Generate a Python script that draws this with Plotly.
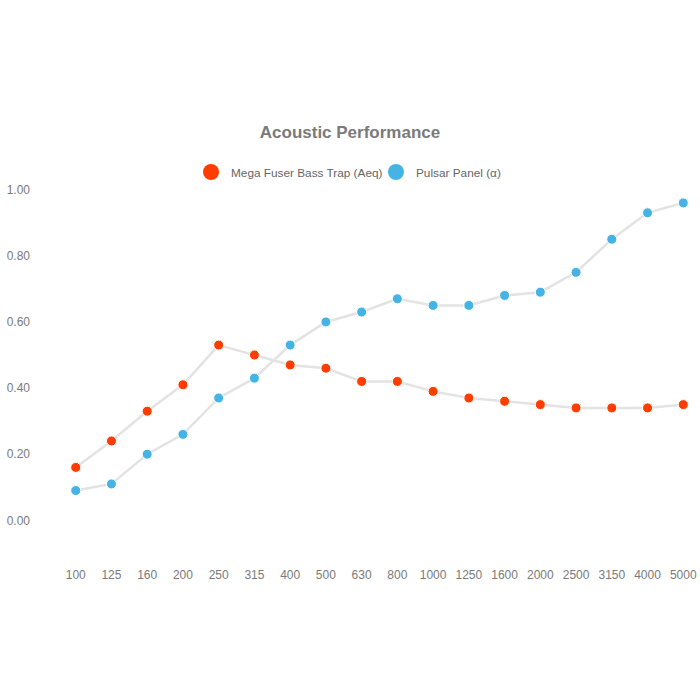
import plotly.graph_objects as go

freqs = ["100", "125", "160", "200", "250", "315", "400", "500", "630", "800",
         "1000", "1250", "1600", "2000", "2500", "3150", "4000", "5000"]
mega_fuser = [0.16, 0.24, 0.33, 0.41, 0.53, 0.50, 0.47, 0.46, 0.42, 0.42,
              0.39, 0.37, 0.36, 0.35, 0.34, 0.34, 0.34, 0.35]
pulsar = [0.09, 0.11, 0.20, 0.26, 0.37, 0.43, 0.53, 0.60, 0.63, 0.67,
          0.65, 0.65, 0.68, 0.69, 0.75, 0.85, 0.93, 0.96]
y_ticks = [0.0, 0.2, 0.4, 0.6, 0.8, 1.0]

RED = "#ff3d00"
BLUE = "#45b4e4"
LINE = "#e3e3e3"
TICK = "#7a7a7a"
FONT = "Liberation Sans, Arial, sans-serif"

fig = go.Figure()
series = [("Mega Fuser Bass Trap (Aeq)", mega_fuser, RED, "legend"),
          ("Pulsar Panel (\u03b1)", pulsar, BLUE, "legend2")]
for name, vals, col, _ in series:
    fig.add_trace(go.Scatter(
        x=freqs, y=vals, mode="lines+markers", showlegend=False,
        line=dict(color=LINE, width=2.5),
        marker=dict(color=col, size=10, line=dict(color="white", width=1)),
        name=name))
for name, _, col, lg in series:
    fig.add_trace(go.Scatter(
        x=[None], y=[None], mode="markers", name=name, legend=lg,
        marker=dict(color=col, size=16)))

leg_common = dict(orientation="h", xref="paper", yref="paper",
                  yanchor="middle", y=(560 - 172) / 410, xanchor="left",
                  font=dict(size=11.8, color="#666666", family=FONT),
                  itemwidth=30, bgcolor="rgba(0,0,0,0)")

fig.update_layout(
    width=700, height=700,
    paper_bgcolor="white", plot_bgcolor="white",
    font=dict(family=FONT, color=TICK, size=12),
    margin=dict(l=65, r=6, t=150, b=140, autoexpand=False),
    title=dict(text="<b>Acoustic Performance</b>", x=0.5, xanchor="center",
               y=1 - 132 / 700, yanchor="middle", yref="container",
               font=dict(size=17, color="#7a7a7a", family=FONT)),
    legend=dict(leg_common, x=(191 - 65) / 629),
    legend2=dict(leg_common, x=(376 - 65) / 629),
    xaxis=dict(type="category", range=[-0.3, 17.3], showgrid=False,
               zeroline=False, showline=False, ticks="", automargin=False,
               ticklabelstandoff=6,
               tickfont=dict(size=12, color=TICK)),
    yaxis=dict(range=[-0.12, 1.12], tickvals=y_ticks,
               ticktext=[f"{v:.2f}" for v in y_ticks], showgrid=False,
               zeroline=False, showline=False, ticks="", automargin=False,
               ticklabelstandoff=34,
               tickfont=dict(size=12, color=TICK)),
)
fig.write_html("out.html", config={"displayModeBar": False},
               post_script="document.body.style.margin='0';")
